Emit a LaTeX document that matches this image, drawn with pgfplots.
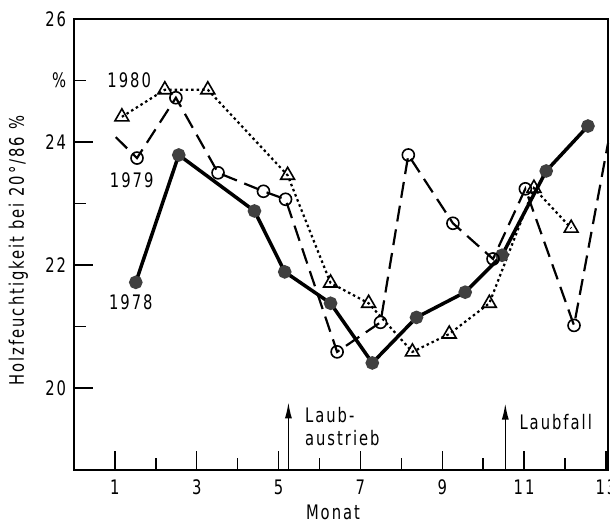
\documentclass[border=0pt]{standalone}
\usepackage{pgfplots}
\pgfplotsset{compat=1.18}
\usepackage{fontspec}
\setmainfont{DejaVu Sans Condensed}[LetterSpace=10, FakeStretch=0.82]
\usetikzlibrary{arrows.meta}

\begin{document}
\fontsize{20bp}{24bp}\selectfont
\begin{tikzpicture}
\begin{axis}[
  scale only axis, width=534bp, height=451bp,
  xmin=0, xmax=13.05, ymin=18.67, ymax=26,
  xtick={1,3,...,13}, minor xtick={2,4,...,12},
  ytick={20,22,24,26}, minor ytick={21,23},
  extra y ticks={25}, extra y tick labels={\%},
  extra y tick style={major tick length=12bp},
  tick align=inside, tick pos=left,
  major tick length=19bp, minor tick length=12bp,
  axis line style={line width=1.6bp},
  tick style={line width=1.4bp, black},
  /pgf/number format/assume math mode=true,
  tick label style={font=\fontsize{20bp}{24bp}\selectfont},
  xticklabel style={yshift=-3bp},
  yticklabel style={xshift=-1bp},
  xlabel={Monat}, ylabel={Holzfeuchtigkeit bei 20°/86 \%},
  xlabel style={at={(axis description cs:0.485,-0.093)}, anchor=center},
  ylabel style={at={(axis description cs:-0.104,0.486)}, anchor=center},
  label style={font=\fontsize{20bp}{24bp}\selectfont},
  clip=false,
]
% 1978
\addplot[black, line width=3.5bp, mark=*, mark size=5bp,
  mark options={fill=black!75, draw=black!75}] coordinates {
  (1.51,21.72) (2.56,23.79) (4.41,22.88) (5.15,21.89) (6.27,21.38)
  (7.29,20.41) (8.37,21.15) (9.56,21.56) (10.46,22.16) (11.54,23.53)
  (12.56,24.26)
};
% 1979
\addplot[black, line width=2.2bp, dash pattern=on 16bp off 8bp,
  mark=o, mark size=6bp, mark indices={2,3,4,5,6,7,8,9,10,11,12,13},
  mark options={solid, fill=white, line width=1.6bp}] coordinates {
  (1.02,24.08) (1.54,23.74) (2.49,24.72) (3.52,23.50) (4.63,23.20)
  (5.17,23.07) (6.43,20.59) (7.49,21.07) (8.17,23.79) (9.26,22.68)
  (10.24,22.10) (11.03,23.24) (12.22,21.02) (13.05,23.98)
};
% 1980
\addplot[black, line width=2.2bp, dash pattern=on 2.5bp off 3bp,
  mark=triangle, mark size=8bp,
  mark options={solid, fill=white, line width=1.6bp}] coordinates {
  (1.17,24.41) (2.22,24.85) (3.27,24.85) (5.22,23.46) (6.27,21.71)
  (7.20,21.38) (8.27,20.59) (9.17,20.88) (10.15,21.38) (11.24,23.25)
  (12.15,22.60)
};
\node at (axis cs:1.35,25.0) {1980};
\node at (axis cs:1.41,23.38) {1979};
\node at (axis cs:1.39,21.40) {1978};
\draw[line width=1.4bp, -{Latex[length=16bp,width=7bp]}] (axis cs:5.24,18.67) -- (axis cs:5.24,19.77);
\draw[line width=1.4bp, -{Latex[length=16bp,width=7bp]}] (axis cs:10.54,18.67) -- (axis cs:10.54,19.75);
\node[anchor=west] at (axis cs:5.48,19.56) {Laub-};
\node[anchor=west] at (axis cs:5.48,19.19) {austrieb};
\node[anchor=west] at (axis cs:10.72,19.45) {Laubfall};
\coordinate (sw) at (rel axis cs:0,0);
\coordinate (ne) at (rel axis cs:1,1);
\end{axis}
\pgfresetboundingbox
\useasboundingbox ([xshift=-74bp,yshift=-54bp]sw) rectangle ([xshift=2bp,yshift=19bp]ne);
\end{tikzpicture}
\end{document}
